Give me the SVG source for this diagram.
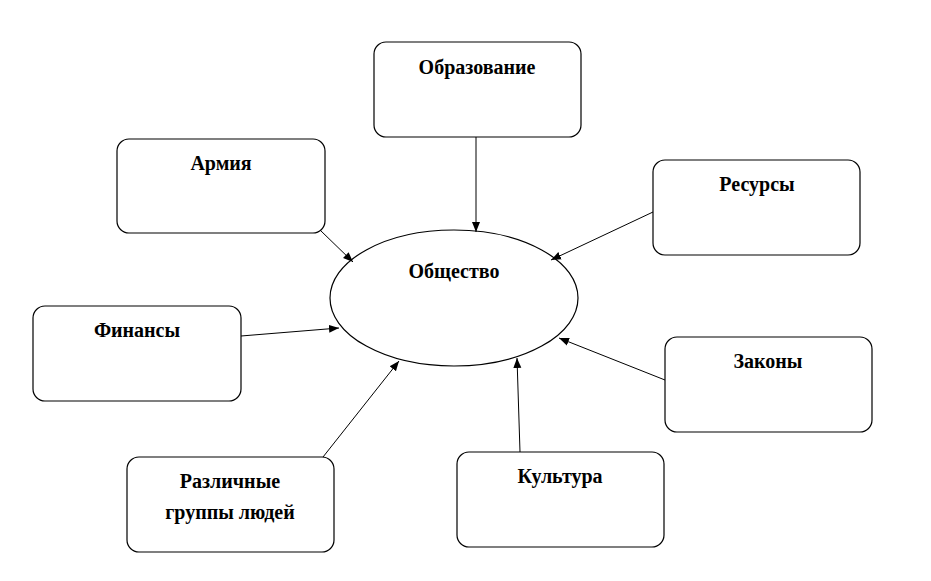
<svg xmlns="http://www.w3.org/2000/svg" width="931" height="581" viewBox="0 0 931 581">
<style>
.b{fill:#fff;stroke:#000;stroke-width:1.2}
.t{font-family:'Liberation Serif','Times New Roman','DejaVu Serif',serif;font-weight:bold;font-size:20px;text-anchor:middle}
.c line{stroke:#000;stroke-width:1}
</style>
<defs><marker id="a" viewBox="0 0 10 10" refX="10" refY="5" markerWidth="10" markerHeight="10" markerUnits="userSpaceOnUse" orient="auto"><path d="M0,1 L10,5 L0,9 z" fill="#000"/></marker></defs>
<rect width="931" height="581" fill="#fff"/>
<g id="obr"><rect class="b" x="374" y="42" width="207" height="95" rx="12"/><text class="t" x="477" y="74">Образование</text></g>
<g id="arm"><rect class="b" x="117" y="139" width="208" height="94" rx="12"/><text class="t" x="221" y="170">Армия</text></g>
<g id="res"><rect class="b" x="653" y="160" width="207" height="95" rx="12"/><text class="t" x="757" y="191">Ресурсы</text></g>
<g id="fin"><rect class="b" x="33" y="306" width="208" height="95" rx="12"/><text class="t" x="137" y="337">Финансы</text></g>
<g id="zak"><rect class="b" x="665" y="337" width="207" height="95" rx="12"/><text class="t" x="768" y="368">Законы</text></g>
<g id="raz"><rect class="b" x="127" y="457" width="207" height="95" rx="12"/><text class="t" x="230" y="488">Различные</text><text class="t" x="230" y="519">группы людей</text></g>
<g id="kul"><rect class="b" x="457" y="452" width="207" height="95" rx="12"/><text class="t" x="560" y="483">Культура</text></g>
<g id="obs"><ellipse class="b" cx="454" cy="298" rx="124" ry="68"/><text class="t" x="454" y="278">Общество</text></g>
<g class="c">
<line x1="476" y1="137" x2="476" y2="232" marker-end="url(#a)"/>
<line x1="320" y1="230" x2="353" y2="262" marker-end="url(#a)"/>
<line x1="653" y1="212" x2="551" y2="260" marker-end="url(#a)"/>
<line x1="241" y1="336" x2="339" y2="328" marker-end="url(#a)"/>
<line x1="665" y1="380" x2="559" y2="338" marker-end="url(#a)"/>
<line x1="323" y1="457" x2="399" y2="361" marker-end="url(#a)"/>
<line x1="520" y1="452" x2="517" y2="358" marker-end="url(#a)"/>
</g>
</svg>
